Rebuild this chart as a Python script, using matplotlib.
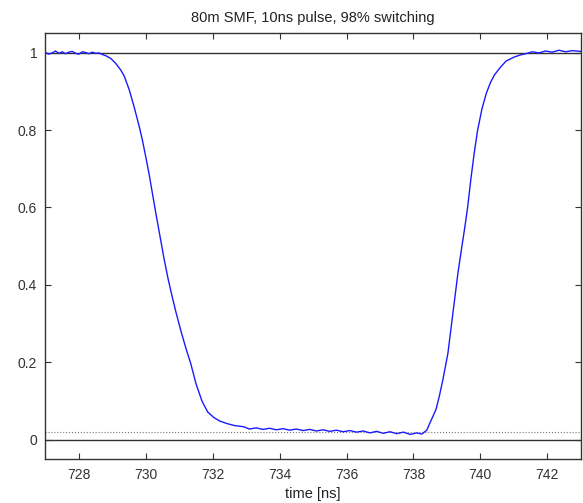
import numpy as np
import matplotlib
matplotlib.use('Agg')
import matplotlib.pyplot as plt

t_ns = [727.0, 727.1, 727.2, 727.3, 727.4, 727.5, 727.6, 727.7, 727.8, 727.9,
        728.0, 728.1, 728.2, 728.3, 728.4, 728.5, 728.6, 728.7, 728.8, 728.95,
        729.1, 729.25, 729.35, 729.5, 729.65, 729.8, 729.9, 730.0, 730.1, 730.2,
        730.3, 730.44, 730.54, 730.66, 730.79, 730.9, 731.04, 731.2, 731.34, 731.5,
        731.68, 731.85, 732.03, 732.2, 732.43, 732.65, 732.92, 733.1, 733.3, 733.5,
        733.7, 733.9, 734.1, 734.3, 734.5, 734.7, 734.9, 735.1, 735.3, 735.5,
        735.7, 735.9, 736.1, 736.3, 736.5, 736.7, 736.9, 737.1, 737.3, 737.5,
        737.7, 737.9, 738.1, 738.25, 738.4, 738.49, 738.58, 738.68, 738.78, 738.88,
        739.03, 739.18, 739.33, 739.45, 739.53, 739.62, 739.72, 739.82, 739.92, 740.05,
        740.18, 740.3, 740.42, 740.6, 740.77, 741.0, 741.2, 741.36, 741.55, 741.75,
        741.95, 742.15, 742.35, 742.55, 742.75, 743.0]
power = [1.000, 0.996, 0.999, 1.004, 0.998, 1.002, 0.997, 1.001, 1.003, 0.998,
         0.996, 1.002, 1.000, 0.997, 1.001, 0.998, 0.999, 0.995, 0.992, 0.985,
         0.972, 0.955, 0.940, 0.905, 0.860, 0.810, 0.773, 0.730, 0.685, 0.635,
         0.585, 0.518, 0.470, 0.418, 0.369, 0.330, 0.284, 0.236, 0.198, 0.145,
         0.100, 0.072, 0.058, 0.049, 0.042, 0.037, 0.034, 0.028, 0.031, 0.027,
         0.030, 0.026, 0.029, 0.025, 0.028, 0.024, 0.027, 0.023, 0.026, 0.022,
         0.025, 0.021, 0.024, 0.020, 0.023, 0.018, 0.022, 0.017, 0.021, 0.016,
         0.020, 0.014, 0.018, 0.015, 0.025, 0.043, 0.060, 0.080, 0.115, 0.155,
         0.223, 0.327, 0.430, 0.500, 0.545, 0.600, 0.675, 0.742, 0.800, 0.855,
         0.895, 0.922, 0.942, 0.962, 0.978, 0.988, 0.994, 0.997, 1.002, 0.999,
         1.004, 1.001, 1.006, 1.002, 1.005, 1.003]
thresh = 0.02  # 98% switching level

xticks = [728, 730, 732, 734, 736, 738, 740, 742]
yticks = [0, 0.2, 0.4, 0.6, 0.8, 1]

plt.rcParams['font.family'] = ['Liberation Sans', 'DejaVu Sans']

fig = plt.figure(figsize=(5.83, 5.03), dpi=100)
ax = fig.add_axes([0.078, 0.087, 0.918, 0.847])

ax.axhline(1, color='#333333', lw=1.0)
ax.axhline(0, color='#333333', lw=1.0)
ax.axhline(thresh, color='#777777', lw=0.8, ls=':')
ax.plot(t_ns, power, color='#1a1aff', lw=1.0)

ax.set_xlim(727, 743)
ax.set_ylim(-0.05, 1.05)
ax.set_xticks(xticks)
ax.set_yticks(yticks)
ax.set_yticklabels(['0', '0.2', '0.4', '0.6', '0.8', '1'])
ax.tick_params(direction='in', top=True, right=True, length=4, width=0.8,
               labelsize=10, colors='#333333', pad=6)
for s in ax.spines.values():
    s.set_color('#333333')
    s.set_linewidth(1.0)

ax.set_title('80m SMF, 10ns pulse, 98% switching', fontsize=10.5, color='#222222', pad=8)
ax.set_xlabel('time [ns]', fontsize=10.5, color='#222222')
ax.xaxis.set_label_coords(0.5, -0.064)

fig.savefig('out.png', dpi=100)
